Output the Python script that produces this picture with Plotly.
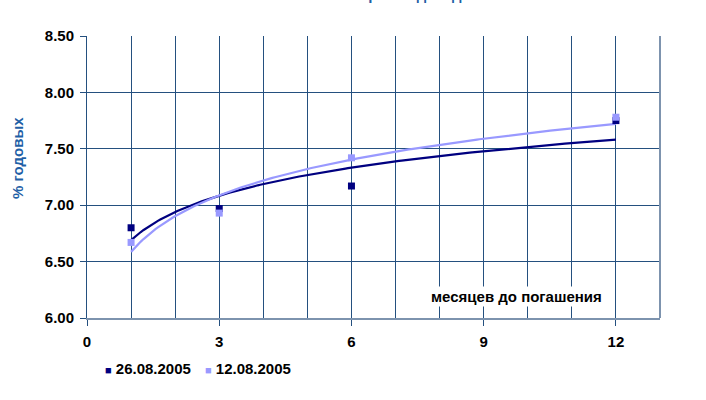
import numpy as np
import plotly.graph_objects as go

months = [1, 3, 6, 12]
yield_26 = [6.80, 6.97, 7.17, 7.75]
yield_12 = [6.67, 6.93, 7.42, 7.78]
series_names = ["26.08.2005", "12.08.2005"]
colors = ["#000080", "#9999FF"]
x_ticks = [0, 3, 6, 9, 12]
y_ticks = [6.0, 6.5, 7.0, 7.5, 8.0, 8.5]

FONT = "Arial, 'Liberation Sans', sans-serif"
W, H = 706, 400
ML, MR, MT, MB = 87, 46, 36, 82
PW, PH = W - ML - MR, H - MT - MB


def px_x(p):
    return (p - ML) / PW


def px_y(p):
    return (H - MB - p) / PH


def log_fit(x, y):
    lx = np.log(np.array(x, dtype=float))
    b, a = np.polyfit(lx, np.array(y, dtype=float), 1)
    xs = np.linspace(min(x), max(x), 200)
    return xs, a + b * np.log(xs)


fig = go.Figure()
for name, ys, c in zip(series_names, [yield_26, yield_12], colors):
    xs, yt = log_fit(months, ys)
    fig.add_trace(go.Scatter(x=xs, y=yt, mode="lines", line=dict(color=c, width=2.2),
                             showlegend=False, hoverinfo="skip"))
for name, ys, c in zip(series_names, [yield_26, yield_12], colors):
    fig.add_trace(go.Scatter(x=months, y=ys, mode="markers", name=name, showlegend=False,
                             marker=dict(symbol="square", size=7, color=c)))

grid_c = "#24507F"
tfont = dict(family=FONT, size=15, color="black")

legend_ann = []
for name, c, xp in zip(series_names, colors, [103, 203]):
    legend_ann.append(dict(
        text=f"<span style='color:{c};font-size:11px'>■</span> <b>{name}</b>",
        xref="paper", yref="paper", x=px_x(xp), y=px_y(368), xanchor="left", yanchor="middle",
        showarrow=False, font=tfont))

fig.update_layout(
    width=W, height=H,
    margin=dict(l=ML, r=MR, t=MT, b=MB),
    paper_bgcolor="white", plot_bgcolor="white",
    font=dict(family=FONT, size=15, color="black"),
    showlegend=False,
    xaxis=dict(range=[0, 13], tickvals=x_ticks, ticktext=[f"<b>{v}</b>" for v in x_ticks],
               ticks="outside", ticklen=6, tickcolor=grid_c, ticklabelstandoff=3,
               showgrid=True, gridcolor=grid_c, gridwidth=1,
               minor=dict(dtick=1, showgrid=True, gridcolor=grid_c, gridwidth=1, ticks=""),
               showline=True, linecolor="#7D93AE", linewidth=2, mirror=False,
               zeroline=False, tickfont=tfont),
    yaxis=dict(range=[6.0, 8.5], tickvals=y_ticks, ticktext=[f"<b>{v:.2f}</b>" for v in y_ticks],
               ticks="outside", ticklen=6, ticklabelstandoff=3,
               tickcolor=grid_c, showgrid=True, gridcolor=grid_c, gridwidth=1,
               showline=True, linecolor=grid_c, linewidth=1, zeroline=False,
               tickfont=tfont),
    annotations=[
        dict(text="<b>% годовых</b>", xref="paper", yref="paper", x=px_x(17), y=px_y(158),
             xanchor="center", yanchor="middle", textangle=-90,
             showarrow=False, font=dict(family=FONT, size=15, color="#1F5FA6")),
        dict(text="<b>месяцев до погашения</b>", xref="paper", yref="paper", x=px_x(516), y=px_y(296),
             xanchor="center", yanchor="middle", showarrow=False, bgcolor="white",
             font=tfont),
        dict(text="<b>Кривая доходности</b>", xref="paper", yref="paper", x=px_x(432), y=px_y(5),
             xanchor="center", yanchor="bottom",
             showarrow=False, font=dict(family=FONT, size=15, color="#1F5FA6")),
    ] + legend_ann,
    shapes=[dict(type="line", xref="paper", yref="paper", x0=1, x1=1, y0=0, y1=1,
                 line=dict(color="#7D93AE", width=2))],
)

fig.write_html("out.html", config={"displayModeBar": False},
               post_script="document.body.style.margin='0';")
